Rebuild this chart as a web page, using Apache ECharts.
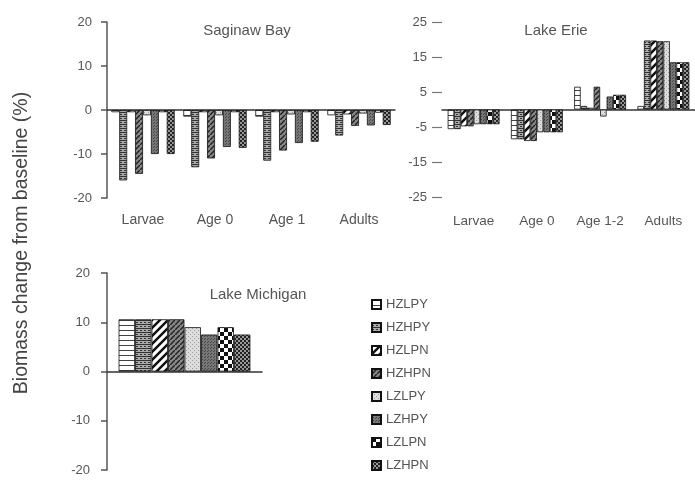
<!DOCTYPE html>
<html>
<head>
<meta charset="utf-8">
<script src="https://cdn.jsdelivr.net/npm/echarts@6/dist/echarts.min.js"></script>
<style>
html, body { margin: 0; background: #fff; }
#chart { width: 695px; height: 484px; }
</style>
</head>
<body>
<div id="chart"></div>
<script>
const scenarios = ['HZLPY', 'HZHPY', 'HZLPN', 'HZHPN', 'LZLPY', 'LZHPY', 'LZLPN', 'LZHPN']
const saginawStages = ['Larvae', 'Age 0', 'Age 1', 'Adults']
const erieStages = ['Larvae', 'Age 0', 'Age 1-2', 'Adults']

// one row per scenario, one column per stage (%)
const saginawValues = [
  [-0.5, -1.5, -1.5, -1.2],
  [-16, -13, -11.5, -5.8],
  [-0.5, -0.5, -0.5, -1],
  [-14.5, -11, -9.2, -3.6],
  [-1.2, -1.2, -1, -0.8],
  [-10, -8.4, -7.5, -3.5],
  [-0.5, -0.5, -0.5, -0.6],
  [-10, -8.6, -7.2, -3.4]
]
const erieValues = [
  [-5.6, -8.5, 6.5, 1],
  [-5.6, -8.5, 1, 19.7],
  [-4.8, -9, 0.5, 19.7],
  [-4.8, -9, 6.5, 19.5],
  [-4.2, -6.5, -2, 19.5],
  [-4.2, -6.5, 3.7, 13.5],
  [-4.2, -6.5, 4.2, 13.5],
  [-4.2, -6.5, 4.2, 13.5]
]
const michiganValues = [10.6, 10.6, 10.6, 10.6, 9, 7.5, 9, 7.5]

const saginawTicks = { min: -20, max: 20, interval: 10 }
const erieTicks = { min: -25, max: 25, interval: 10 }
const michiganTicks = { min: -20, max: 20, interval: 10 }

// small canvas tiles used as hatch fills
function tile(size, bg, draw) {
  const c = document.createElement('canvas')
  c.width = size
  c.height = size
  const ctx = c.getContext('2d')
  ctx.fillStyle = bg
  ctx.fillRect(0, 0, size, size)
  draw(ctx)
  return { image: c, repeat: 'repeat' }
}
const fills = [
  tile(5, '#fff', ctx => { ctx.fillStyle = '#444'; ctx.fillRect(0, 0, 5, 1) }),
  tile(4, '#aaa', ctx => { ctx.fillStyle = '#333'; ctx.fillRect(0, 0, 4, 1); ctx.fillRect(0, 2, 2, 1) }),
  tile(8, '#fff', ctx => {
    ctx.strokeStyle = '#111'; ctx.lineWidth = 2.5
    ctx.beginPath(); ctx.moveTo(-2, 10); ctx.lineTo(10, -2); ctx.moveTo(-2, 2); ctx.lineTo(2, -2); ctx.moveTo(6, 10); ctx.lineTo(10, 6); ctx.stroke()
  }),
  tile(5, '#888', ctx => {
    ctx.strokeStyle = '#222'; ctx.lineWidth = 1.5
    ctx.beginPath(); ctx.moveTo(-1, 6); ctx.lineTo(6, -1); ctx.stroke()
  }),
  tile(4, '#ddd', ctx => { ctx.fillStyle = '#999'; ctx.fillRect(0, 0, 1, 1); ctx.fillRect(2, 2, 1, 1) }),
  tile(3, '#777', ctx => { ctx.fillStyle = '#444'; ctx.fillRect(0, 0, 1, 1); ctx.fillRect(1, 2, 1, 1) }),
  tile(8, '#fff', ctx => { ctx.fillStyle = '#111'; ctx.fillRect(0, 0, 4, 4); ctx.fillRect(4, 4, 4, 4) }),
  tile(4, '#999', ctx => { ctx.fillStyle = '#222'; ctx.fillRect(0, 0, 2, 2); ctx.fillRect(2, 2, 2, 2) })
]

const labelColor = '#555'
const font = 'Liberation Sans'

function valueAxis(gridIndex, ticks, extra) {
  return Object.assign({
    type: 'value',
    gridIndex,
    min: ticks.min,
    max: ticks.max,
    interval: ticks.interval,
    splitLine: { show: false },
    axisLine: { show: true, lineStyle: { color: '#555', width: 1.5 } },
    axisTick: { show: true, length: 6, lineStyle: { color: '#555', width: 1.5 } },
    axisLabel: { color: labelColor, fontFamily: font, fontSize: 13, margin: 15 }
  }, extra)
}

function catAxis(gridIndex, data, labelMargin, showLabel, fontSize) {
  return {
    type: 'category',
    gridIndex,
    data,
    axisLine: { onZero: true, lineStyle: { color: '#333', width: 1.5 } },
    axisTick: { show: false },
    axisLabel: { show: showLabel, interval: 0, color: labelColor, fontFamily: font, fontSize, margin: labelMargin }
  }
}

const series = []
scenarios.forEach((name, i) => {
  const style = { color: fills[i], borderColor: '#111', borderWidth: 0.8 }
  series.push({ type: 'bar', name, xAxisIndex: 0, yAxisIndex: 0, data: saginawValues[i], itemStyle: style, barGap: 0, barCategoryGap: '12%' })
  series.push({ type: 'bar', name, xAxisIndex: 1, yAxisIndex: 1, data: erieValues[i], itemStyle: style, barGap: 0, barCategoryGap: '18%' })
  series.push({ type: 'bar', name, xAxisIndex: 2, yAxisIndex: 2, data: [michiganValues[i]], itemStyle: style, barGap: '1%', barCategoryGap: '15%' })
})

const chart = echarts.init(document.getElementById('chart'))
chart.setOption({
  animation: false,
  textStyle: { fontFamily: font },
  grid: [
    { left: 107, top: 22, width: 288, height: 176 },
    { left: 442, top: 22, width: 256, height: 175 },
    { left: 107, top: 273, width: 155, height: 197 }
  ],
  xAxis: [
    catAxis(0, saginawStages, 15, true, 14),
    catAxis(1, erieStages, 17, true, 13.5),
    catAxis(2, [''], 0, false, 13)
  ],
  yAxis: [
    valueAxis(0, saginawTicks),
    valueAxis(1, erieTicks, {
      axisLine: { show: false },
      axisTick: { show: true, length: 10, lineStyle: { color: '#777', width: 1.2 } }
    }),
    valueAxis(2, michiganTicks, { axisLabel: { color: labelColor, fontFamily: font, fontSize: 13, margin: 17 } })
  ],
  legend: {
    orient: 'vertical',
    left: 366,
    top: 293,
    height: 188,
    itemWidth: 9,
    itemHeight: 9,
    itemGap: 10,
    icon: 'rect',
    data: scenarios,
    textStyle: { color: labelColor, fontFamily: font, fontSize: 13 }
  },
  graphic: [
    { type: 'text', x: 247, y: 31, style: { text: 'Saginaw Bay', font: '15px Liberation Sans', fill: '#555', align: 'center', verticalAlign: 'middle' } },
    { type: 'text', x: 556, y: 31, style: { text: 'Lake Erie', font: '15px Liberation Sans', fill: '#555', align: 'center', verticalAlign: 'middle' } },
    { type: 'text', x: 258, y: 295, style: { text: 'Lake Michigan', font: '15px Liberation Sans', fill: '#555', align: 'center', verticalAlign: 'middle' } },
    { type: 'text', x: 22, y: 243, rotation: Math.PI / 2, style: { text: 'Biomass change from baseline (%)', font: '19.5px Liberation Sans', fill: '#444', align: 'center', verticalAlign: 'middle' } }
  ],
  series
})
</script>
</body>
</html>
